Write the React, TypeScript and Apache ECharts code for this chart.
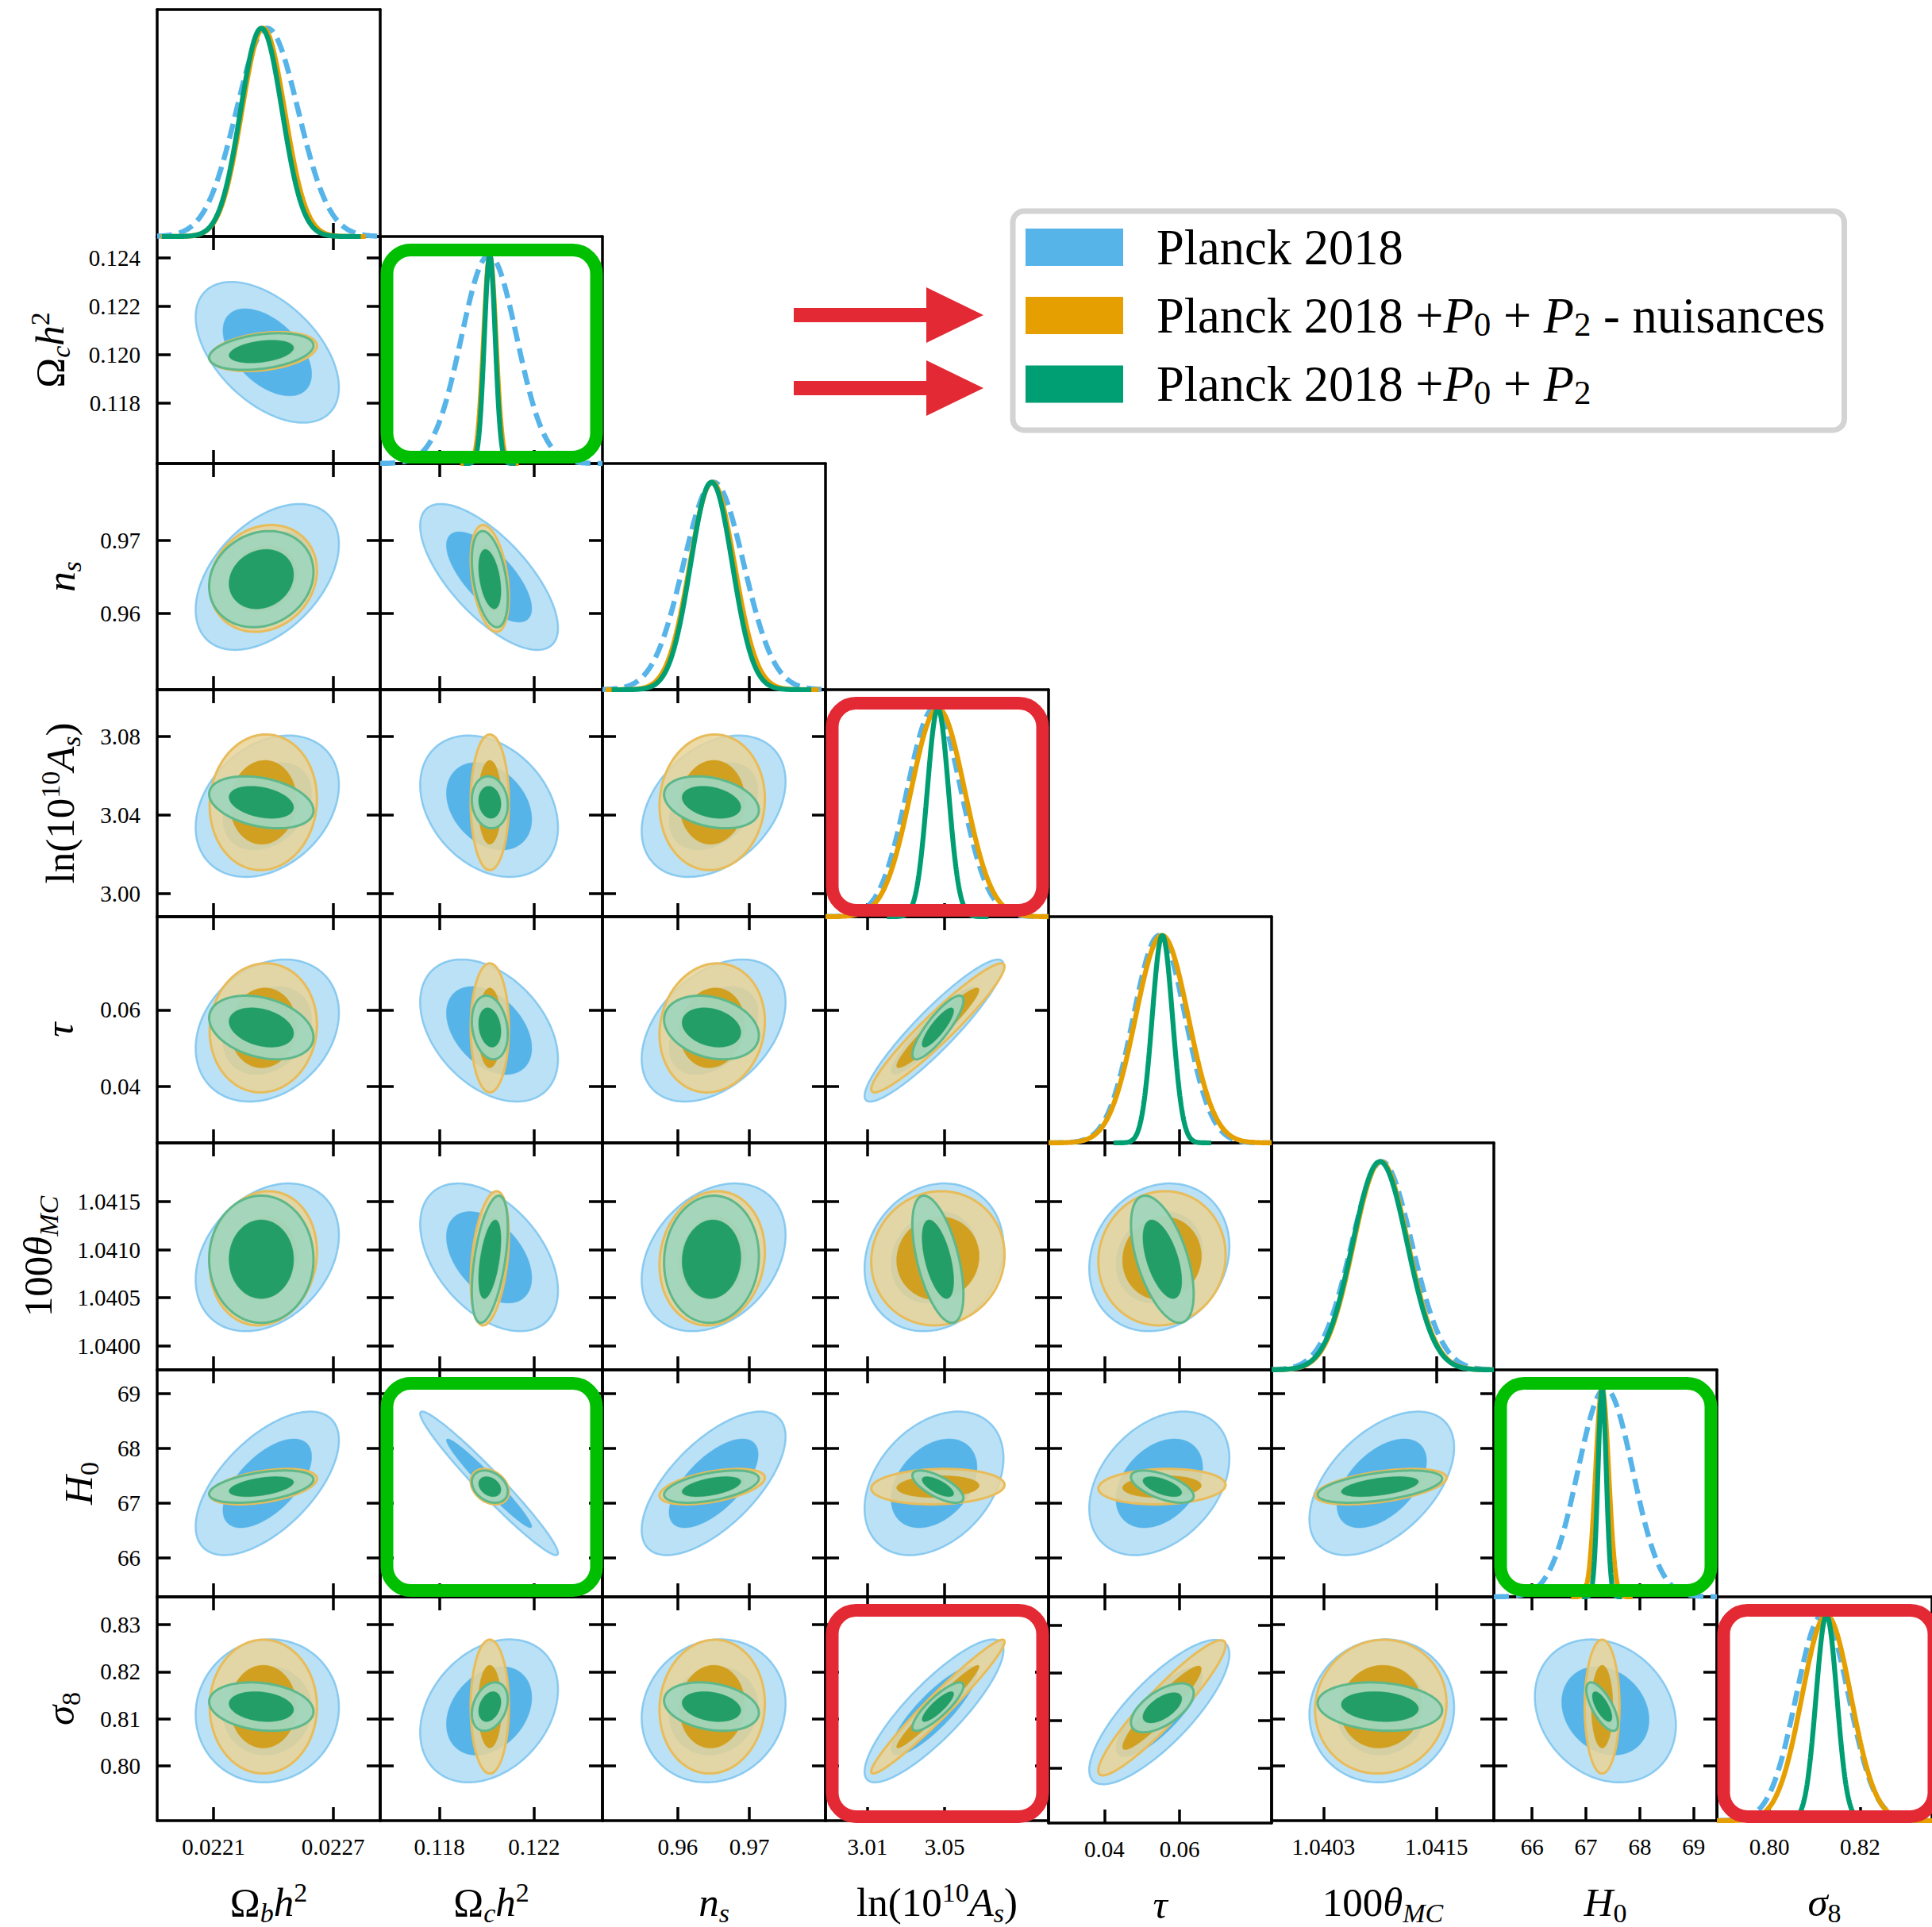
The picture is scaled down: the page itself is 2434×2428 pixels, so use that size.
import React, { useEffect, useRef } from 'react';
import * as echarts from 'echarts';

const FONT = '"Liberation Serif", "Times New Roman", serif';

// Parameters, in the order they appear along both axes of the triangle plot
const paramNames = ['omegabh2', 'omegach2', 'ns', 'logA', 'tau', 'theta_MC_100', 'H0', 'sigma8'];

// Axis titles (rich text: r = roman, i = italic, s/si = subscripts, sp = superscript)
const paramLabels = [
  '{r|Ω}{si|b}{i|h}{sp|2}',
  '{r|Ω}{si|c}{i|h}{sp|2}',
  '{i|n}{si|s}',
  '{r|ln(10}{sp|10}{i|A}{si|s}{r|)}',
  '{i|τ}',
  '{r|100}{i|θ}{si|MC}',
  '{i|H}{s|0}',
  '{i|σ}{s|8}',
];

// Plotted range of every parameter (same range whether it is on x or y)
const axisMin = [0.021817, 0.1155, 0.9495, 2.9883, 0.0252, 1.03975, 65.29, 0.7884];
const axisMax = [0.022937, 0.12489, 0.9806, 3.1038, 0.0844, 1.04211, 69.43, 0.8359];

// Tick labels used on the x axes (bottom row) and y axes (left column)
const xTickLabels = [
  ['0.0221', '0.0227'],
  ['0.118', '0.122'],
  ['0.96', '0.97'],
  ['3.01', '3.05'],
  ['0.04', '0.06'],
  ['1.0403', '1.0415'],
  ['66', '67', '68', '69'],
  ['0.80', '0.82'],
];
const yTickLabels = [
  [],
  ['0.118', '0.120', '0.122', '0.124'],
  ['0.96', '0.97'],
  ['3.00', '3.04', '3.08'],
  ['0.04', '0.06'],
  ['1.0400', '1.0405', '1.0410', '1.0415'],
  ['66', '67', '68', '69'],
  ['0.80', '0.81', '0.82', '0.83'],
];

const seriesNames = ['Planck 2018', 'Planck 2018 +P0 + P2 - nuisances', 'Planck 2018 +P0 + P2'];
const legendLabels = [
  '{t|Planck 2018}',
  '{t|Planck 2018 +}{i|P}{s|0}{t| + }{i|P}{s|2}{t| - nuisances}',
  '{t|Planck 2018 +}{i|P}{s|0}{t| + }{i|P}{s|2}',
];

// Posterior summaries. Correlations are listed row by row for the lower triangle:
// (1,0), (2,0),(2,1), (3,0),(3,1),(3,2), ... (7,0)..(7,6)
const planckMean = [0.02237, 0.1201, 0.965, 3.0445, 0.0546, 1.04092, 67.36, 0.8117];
const planckSigma1D = [0.000155, 0.00117, 0.0042, 0.014, 0.0069, 0.00032, 0.51, 0.0058];
const planckSigma2D = [0.000147, 0.00119, 0.0041, 0.0147, 0.0076, 0.000314, 0.535, 0.0062];
const planckCorr = [
  -0.5,
  0.45, -0.7,
  0.3, -0.3, 0.35,
  0.25, -0.4, 0.4, 0.92,
  0.3, -0.45, 0.3, 0.15, 0.15,
  0.6, -0.97, 0.65, 0.35, 0.35, 0.5,
  0.05, 0.3, 0.1, 0.85, 0.8, 0.05, -0.2,
];

const noNuisMean = [0.02235, 0.12013, 0.9648, 3.0465, 0.0553, 1.04091, 67.3, 0.8126];
const noNuisSigma1D = [0.000107, 0.00026, 0.0031, 0.0139, 0.007, 0.00029, 0.12, 0.0054];
const noNuisSigma2D = [0.00011, 0.00033, 0.003, 0.0141, 0.0069, 0.000285, 0.132, 0.0058];
const noNuisCorr = [
  0.3,
  0.15, -0.35,
  0.05, 0.0, 0.05,
  0.05, 0.0, 0.1, 0.95,
  0.1, 0.35, 0.1, 0.05, 0.05,
  0.45, -0.3, 0.5, 0.1, 0.1, 0.5,
  0.0, 0.0, 0.05, 0.97, 0.93, 0.05, 0.0,
];

const fullMean = [0.02234, 0.12013, 0.9647, 3.0465, 0.0554, 1.0409, 67.3, 0.8126];
const fullSigma1D = [0.000104, 0.00023, 0.0029, 0.0055, 0.0027, 0.00029, 0.077, 0.0023];
const fullSigma2D = [0.000107, 0.00031, 0.0027, 0.0054, 0.0034, 0.00027, 0.12, 0.0021];
const fullCorr = [
  0.33,
  0.15, -0.4,
  -0.32, -0.1, -0.3,
  -0.3, -0.2, -0.25, 0.85,
  0.0, 0.5, 0.05, -0.55, -0.55,
  0.45, -0.3, 0.5, -0.7, -0.6, 0.5,
  -0.2, 0.3, -0.25, 0.85, 0.6, -0.15, -0.7,
];

// ---- layout & styling ----
const N = paramNames.length;
const GRID_LEFT = 198;
const CELL_W = 280.7;
const GRID_TOP = 12.4;
const CELL_H = 285.6;
const TICK_LEN = 17;
const FRAME_WIDTH = 3.5;
const PEAK_HEADROOM = 1.09;
const CURVE_HALF_SPAN = 4.8; // 1D curves are drawn over mean ± this many sigma
const X_NAME_GAP = 73;
const yNameGap = [0, 105, 91, 92, 93, 120, 69, 92];
const R68 = Math.sqrt(2.2958);
const R95 = Math.sqrt(5.9915);
const CURVE_SAMPLES = 260;

const greenBoxes = [[1, 1], [6, 1], [6, 6]];
const redBoxes = [[3, 3], [7, 3], [7, 7]];
const arrowRowsY = [397, 489];

const datasetStyles = [
  {
    color: '#56b4e9',
    outer: { fill: 'rgba(86,180,233,0.4)', stroke: 'rgba(110,190,236,0.75)', lineWidth: 2.5 },
    inner: { fill: '#56b4e9', stroke: '#56b4e9', lineWidth: 0.5 },
    line: { color: '#56b4e9', width: 6.5, type: [19, 9] },
  },
  {
    color: '#e69f00',
    outer: { fill: 'rgba(233,212,152,0.86)', stroke: '#e8bc5a', lineWidth: 3 },
    inner: { fill: '#d2a020', stroke: '#d2a020', lineWidth: 0.5 },
    line: { color: '#e69f00', width: 6.2, type: 'solid' },
  },
  {
    color: '#009e73',
    outer: { fill: 'rgba(160,214,189,0.94)', stroke: '#5fb88a', lineWidth: 3 },
    inner: { fill: '#229e66', stroke: '#229e66', lineWidth: 0.5 },
    line: { color: '#009e73', width: 6.2, type: 'solid' },
  },
];

const datasets = [
  { mean: planckMean, s1: planckSigma1D, s2: planckSigma2D, corr: planckCorr },
  { mean: noNuisMean, s1: noNuisSigma1D, s2: noNuisSigma2D, corr: noNuisCorr },
  { mean: fullMean, s1: fullSigma1D, s2: fullSigma2D, corr: fullCorr },
];

const colEdge = (k: number) => Math.round(GRID_LEFT + CELL_W * k);
const rowEdge = (k: number) => Math.round(GRID_TOP + CELL_H * k);
const pairIndex = (row: number, col: number) => (row * (row - 1)) / 2 + col;

const labelFor = (labels: string[], v: number) => {
  const hit = labels.find((l) => Math.abs(Number(l) - v) <= 1e-7 * Math.max(1, Math.abs(v)));
  return hit ?? '';
};

const nameRich = {
  r: { fontFamily: FONT, fontSize: 51, lineHeight: 60, color: '#000', verticalAlign: 'middle' },
  i: { fontFamily: FONT, fontSize: 51, lineHeight: 60, color: '#000', fontStyle: 'italic', verticalAlign: 'middle' },
  s: { fontFamily: FONT, fontSize: 34, lineHeight: 36, color: '#000', verticalAlign: 'bottom' },
  si: { fontFamily: FONT, fontSize: 34, lineHeight: 36, color: '#000', fontStyle: 'italic', verticalAlign: 'bottom' },
  sp: { fontFamily: FONT, fontSize: 34, lineHeight: 36, color: '#000', verticalAlign: 'top' },
};

const legendRich = {
  t: { fontFamily: FONT, fontSize: 62.5, lineHeight: 64, color: '#000', verticalAlign: 'middle' },
  i: { fontFamily: FONT, fontSize: 62.5, lineHeight: 64, color: '#000', fontStyle: 'italic', verticalAlign: 'middle' },
  s: { fontFamily: FONT, fontSize: 43, lineHeight: 40, color: '#000', verticalAlign: 'bottom' },
};

function ellipseRenderer(style: any) {
  return (_params: any, api: any) => {
    const mx = api.value(0);
    const my = api.value(1);
    const sx = api.value(2);
    const sy = api.value(3);
    const rho = api.value(4);
    const r = api.value(5);
    const level = api.value(6);
    const c = Math.sqrt(Math.max(0, 1 - rho * rho));
    const pts: number[][] = [];
    const n = 160;
    for (let k = 0; k < n; k++) {
      const t = (2 * Math.PI * k) / n;
      pts.push(api.coord([mx + r * sx * Math.cos(t), my + r * sy * (rho * Math.cos(t) + c * Math.sin(t))]));
    }
    const s = level === 0 ? style.outer : style.inner;
    return {
      type: 'polygon',
      shape: { points: pts },
      style: { fill: s.fill, stroke: s.stroke, lineWidth: s.lineWidth },
    };
  };
}

function buildOption() {
  const grid: any[] = [];
  const xAxis: any[] = [];
  const yAxis: any[] = [];
  const contourSeries: any[] = [];
  const curveSeries: any[] = [];
  const frame = { show: true, onZero: false, lineStyle: { color: '#000', width: FRAME_WIDTH } };
  const tickLine = { color: '#000', width: FRAME_WIDTH };
  const tickFont = { fontFamily: FONT, fontSize: 29, color: '#000' };
  const nameStyle = { fontFamily: FONT, fontSize: 51, color: '#000', rich: nameRich };

  let g = 0;
  for (let row = 0; row < N; row++) {
    for (let col = 0; col <= row; col++) {
      const left = colEdge(col);
      const top = rowEdge(row);
      grid.push({ left, top, width: colEdge(col + 1) - left, height: rowEdge(row + 1) - top, containLabel: false });
      const diag = row === col;
      const xLabels = xTickLabels[col];
      const xVals = xLabels.map(Number);
      const yLabels = diag ? [] : yTickLabels[row];
      const yVals = yLabels.map(Number);

      const xBase = {
        type: 'value', gridIndex: g, min: axisMin[col], max: axisMax[col],
        splitLine: { show: false }, axisLine: frame, silent: true,
      };
      const bottomRow = row === N - 1;
      xAxis.push({
        ...xBase, position: 'bottom',
        axisTick: { show: true, inside: true, length: TICK_LEN, lineStyle: tickLine, customValues: xVals },
        axisLabel: { show: bottomRow, customValues: xVals, formatter: (v: number) => labelFor(xLabels, v), margin: 18, ...tickFont },
        ...(bottomRow ? { name: paramLabels[col], nameLocation: 'middle', nameGap: X_NAME_GAP, nameTextStyle: nameStyle } : {}),
      });
      xAxis.push({
        ...xBase, position: 'top',
        axisTick: { show: !diag, inside: true, length: TICK_LEN, lineStyle: tickLine, customValues: xVals },
        axisLabel: { show: false },
      });

      const yBase = {
        type: 'value', gridIndex: g,
        min: diag ? 0 : axisMin[row], max: diag ? PEAK_HEADROOM : axisMax[row],
        splitLine: { show: false }, axisLine: frame, silent: true,
      };
      const leftCol = col === 0 && !diag;
      yAxis.push({
        ...yBase, position: 'left',
        axisTick: { show: !diag, inside: true, length: TICK_LEN, lineStyle: tickLine, customValues: yVals },
        axisLabel: { show: leftCol, customValues: yVals, formatter: (v: number) => labelFor(yLabels, v), margin: 21, ...tickFont },
        ...(leftCol ? { name: paramLabels[row], nameLocation: 'middle', nameGap: yNameGap[row], nameTextStyle: nameStyle } : {}),
      });
      yAxis.push({
        ...yBase, position: 'right',
        axisTick: { show: !diag, inside: true, length: TICK_LEN, lineStyle: tickLine, customValues: yVals },
        axisLabel: { show: false },
      });

      if (diag) {
        datasets.forEach((d, k) => {
          const st = datasetStyles[k];
          const m = d.mean[col];
          const s = d.s1[col];
          const lo = Math.max(axisMin[col], m - CURVE_HALF_SPAN * s);
          const hi = Math.min(axisMax[col], m + CURVE_HALF_SPAN * s);
          const pts: number[][] = [];
          for (let q = 0; q < CURVE_SAMPLES; q++) {
            const x = lo + ((hi - lo) * q) / (CURVE_SAMPLES - 1);
            pts.push([x, Math.exp(-0.5 * ((x - m) / s) ** 2)]);
          }
          curveSeries.push({
            type: 'line', name: seriesNames[k], xAxisIndex: 2 * g, yAxisIndex: 2 * g,
            data: pts, showSymbol: false, symbol: 'none', smooth: false, silent: true,
            lineStyle: st.line, itemStyle: { color: st.color }, z: 3 + k, clip: true,
          });
        });
      } else {
        const p = pairIndex(row, col);
        datasets.forEach((d, k) => {
          const st = datasetStyles[k];
          const base = [d.mean[col], d.mean[row], d.s2[col], d.s2[row], d.corr[p]];
          contourSeries.push({
            type: 'custom', name: seriesNames[k], xAxisIndex: 2 * g, yAxisIndex: 2 * g,
            coordinateSystem: 'cartesian2d', silent: true, clip: true, z: 2,
            itemStyle: { color: st.color },
            renderItem: ellipseRenderer(st),
            data: [[...base, R95, 0], [...base, R68, 1]],
          });
        });
      }
      g++;
    }
  }

  const cellRect = (row: number, col: number) => {
    const L = colEdge(col);
    const T = rowEdge(row);
    return { x: L + 8.5, y: T + 17, width: colEdge(col + 1) - L - 16, height: rowEdge(row + 1) - T - 25, r: 30 };
  };
  const boxes = [
    ...greenBoxes.map(([r, c]) => ({ type: 'rect', silent: true, z: 100, shape: cellRect(r, c), style: { fill: 'none', stroke: '#00bf00', lineWidth: 16 } })),
    ...redBoxes.map(([r, c]) => ({ type: 'rect', silent: true, z: 100, shape: cellRect(r, c), style: { fill: 'none', stroke: '#e32934', lineWidth: 16 } })),
  ];
  const arrows = arrowRowsY.map((cy) => ({
    type: 'polygon', silent: true, z: 100,
    shape: { points: [[1000, cy - 9], [1167, cy - 9], [1167, cy - 35], [1239, cy], [1167, cy + 35], [1167, cy + 9], [1000, cy + 9]] },
    style: { fill: '#e32934' },
  }));

  return {
    animation: false,
    backgroundColor: '#ffffff',
    grid, xAxis, yAxis,
    legend: {
      show: true, orient: 'vertical', left: 1276, top: 266,
      padding: [14, 24, 26, 16],
      itemWidth: 123, itemHeight: 47, itemGap: 23,
      icon: 'rect', selectedMode: false,
      backgroundColor: '#ffffff', borderColor: '#d3d3d3', borderWidth: 7, borderRadius: 14,
      data: seriesNames,
      formatter: (name: string) => legendLabels[seriesNames.indexOf(name)],
      textStyle: { fontFamily: FONT, fontSize: 62.5, color: '#000', padding: [0, 0, 0, 37], rich: legendRich },
    },
    series: [...contourSeries, ...curveSeries],
    graphic: { elements: [...boxes, ...arrows] },
  };
}

export default function App() {
  const ref = useRef<HTMLDivElement>(null);
  useEffect(() => {
    if (!ref.current) return;
    const chart = echarts.init(ref.current, null, { renderer: 'svg' });
    chart.setOption(buildOption() as any);
    return () => chart.dispose();
  }, []);
  return (
    <div
      ref={ref}
      style={{ position: 'absolute', left: 0, top: 0, width: 2434, height: 2428, background: '#fff' }}
    />
  );
}
